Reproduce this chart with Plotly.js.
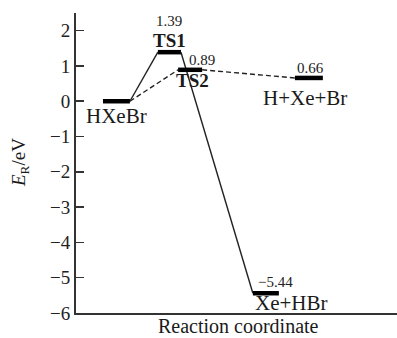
<!DOCTYPE html>
<html>
<head>
<meta charset="utf-8">
<script src="https://cdn.plot.ly/plotly-3.0.1.min.js"></script>
<style>html,body{margin:0;padding:0;background:#fff;}#chart{width:397px;height:338px;}</style>
</head>
<body>
<div id="chart"></div>
<script>
// ---- data ----
const levelNames = ['HXeBr', 'TS1', 'TS2', 'Xe+HBr', 'H+Xe+Br'];
const levelEnergies = [0, 1.39, 0.89, -5.44, 0.66];
const valueLabels = ['', '1.39', '0.89', '\u22125.44', '0.66'];
const yTickVals = [-6, -5, -4, -3, -2, -1, 0, 1, 2];
const solidPath = ['HXeBr', 'TS1', 'Xe+HBr'];
const dashedPath = ['HXeBr', 'TS2', 'H+Xe+Br'];

// ---- layout of levels along the reaction coordinate ----
const levelStart = [0.84, 2.55, 3.18, 5.51, 6.82];
const levelEnd   = [1.68, 3.27, 3.93, 6.32, 7.69];

const FONT = 'Liberation Serif, Times New Roman, serif';
const idx = n => levelNames.indexOf(n);

function pathTrace(path, dash) {
  const xs = [], ys = [];
  for (let i = 0; i < path.length - 1; i++) {
    const a = idx(path[i]), b = idx(path[i + 1]);
    xs.push(levelEnd[a], levelStart[b], null);
    ys.push(levelEnergies[a], levelEnergies[b], null);
  }
  return {x: xs, y: ys, mode: 'lines', type: 'scatter', hoverinfo: 'skip',
          line: {color: '#222', width: 1.4, dash: dash}, showlegend: false};
}

const traces = [pathTrace(solidPath, 'solid'), pathTrace(dashedPath, '5px,3px')];
levelNames.forEach((n, i) => {
  traces.push({x: [levelStart[i], levelEnd[i]], y: [levelEnergies[i], levelEnergies[i]],
    mode: 'lines', type: 'scatter', line: {color: '#000', width: 4.5}, showlegend: false, hoverinfo: 'skip'});
});

// label placement (name: x, yshift, anchor, bold, size; value: x, yshift, anchor)
const namePos = {
  'HXeBr':   {x: 1.25, dy: -15, xa: 'center', b: false, s: 21},
  'TS1':     {x: 2.90, dy: 12,  xa: 'center', b: true,  s: 19},
  'TS2':     {x: 3.64, dy: -11, xa: 'center', b: true,  s: 19},
  'Xe+HBr':  {x: 6.70, dy: -10, xa: 'center', b: false, s: 21},
  'H+Xe+Br': {x: 7.13, dy: -20, xa: 'center', b: false, s: 21}
};
const valPos = {
  'TS1':     {x: 2.90, dy: 31, xa: 'center'},
  'TS2':     {x: 3.46, dy: 10, xa: 'left'},
  'Xe+HBr':  {x: 6.23, dy: 11, xa: 'center'},
  'H+Xe+Br': {x: 7.29, dy: 10, xa: 'center'}
};

const annotations = [];
levelNames.forEach((n, i) => {
  const p = namePos[n];
  annotations.push({x: p.x, y: levelEnergies[i], xref: 'x', yref: 'y', yshift: p.dy,
    xanchor: p.xa, yanchor: 'middle', showarrow: false,
    text: p.b ? '<b>' + n + '</b>' : n,
    font: {family: FONT, size: p.s, color: '#1a1a1a'}});
  if (valueLabels[i]) {
    const v = valPos[n];
    annotations.push({x: v.x, y: levelEnergies[i], xref: 'x', yref: 'y', yshift: v.dy,
      xanchor: v.xa, yanchor: 'middle', showarrow: false, text: valueLabels[i],
      font: {family: FONT, size: 15, color: '#222'}});
  }
});
annotations.push({x: 0.505, y: 0, xref: 'paper', yref: 'paper', yshift: -13, xanchor: 'center', yanchor: 'middle',
  showarrow: false, text: 'Reaction coordinate', font: {family: FONT, size: 20, color: '#1a1a1a'}});
annotations.push({x: 0, y: 0.5, xref: 'paper', yref: 'paper', xshift: -56, xanchor: 'center', yanchor: 'middle',
  textangle: -90, showarrow: false, text: '<i>E</i><sub>R</sub>/eV', font: {family: FONT, size: 19, color: '#1a1a1a'}});

const layout = {
  width: 397, height: 338,
  margin: {l: 76, r: 0, t: 13, b: 25},
  paper_bgcolor: '#fff', plot_bgcolor: '#fff',
  showlegend: false,
  xaxis: {range: [0, 10], showgrid: false, zeroline: false, showticklabels: false, ticks: '',
          showline: true, linecolor: '#333', linewidth: 2, fixedrange: true},
  yaxis: {range: [-6, 2.5], tickvals: yTickVals, showgrid: false, zeroline: false,
          ticks: 'inside', ticklen: 8, tickwidth: 1.5, tickcolor: '#333',
          showline: true, linecolor: '#333', linewidth: 2,
          tickfont: {family: FONT, size: 19, color: '#222'}, fixedrange: true},
  annotations: annotations
};

Plotly.newPlot('chart', traces, layout, {displayModeBar: false, staticPlot: true});
</script>
</body>
</html>
